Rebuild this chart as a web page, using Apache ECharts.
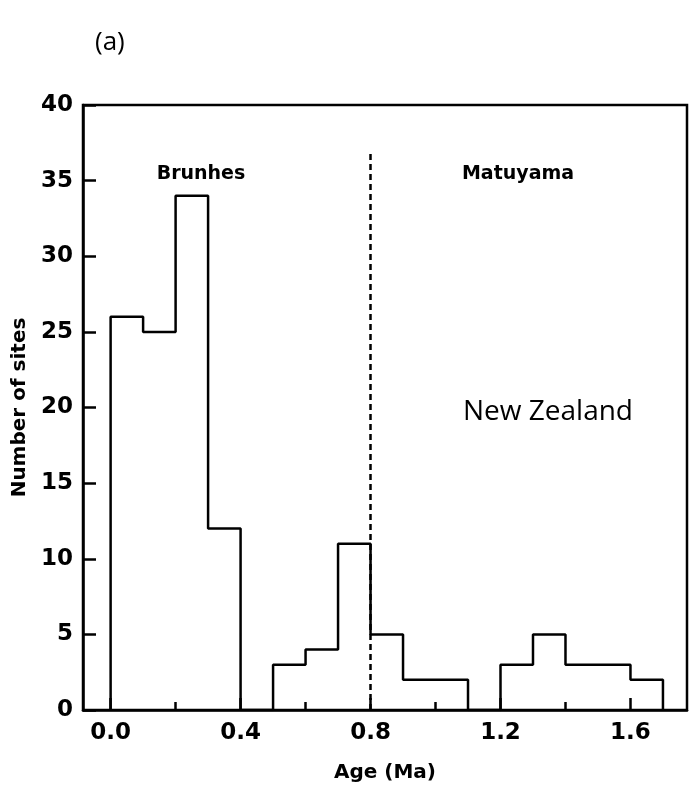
<!DOCTYPE html>
<html>
<head>
<meta charset="utf-8">
<script src="https://cdn.jsdelivr.net/npm/echarts@6/dist/echarts.min.js"></script>
<style>
  html, body { margin: 0; padding: 0; background: #fff; }
  #chart { width: 690px; height: 788px; }
</style>
</head>
<body>
<div id="chart"></div>
<script>
// Histogram of site ages (bin width 0.1 Ma)
const binEdges = [0.0, 0.1, 0.2, 0.3, 0.4, 0.5, 0.6, 0.7, 0.8, 0.9, 1.0, 1.1, 1.2, 1.3, 1.4, 1.5, 1.6, 1.7];
const siteCounts = [26, 25, 34, 12, 0, 3, 4, 11, 5, 2, 2, 0, 3, 5, 3, 3, 2];
const xTickLabels = [0.0, 0.4, 0.8, 1.2, 1.6];
const xMinorTicks = [0.2, 0.6, 1.0, 1.4];
const reversalAge = 0.8;
const reversalTop = 37;

// Step outline of the histogram
const outline = [[binEdges[0], 0]];
siteCounts.forEach((c, i) => {
  outline.push([binEdges[i], c]);
  outline.push([binEdges[i + 1], c]);
});
outline.push([binEdges[binEdges.length - 1], 0]);

const chart = echarts.init(document.getElementById('chart'));
const LW = 2.5;
const tickFont = { fontFamily: 'DejaVu Sans', fontWeight: 'bold', fontSize: 23, color: '#000' };
const titleFont = { fontFamily: 'DejaVu Sans', fontWeight: 'bold', fontSize: 20, color: '#000' };

chart.setOption({
  animation: false,
  backgroundColor: '#fff',
  grid: {
    left: 83, top: 105, right: 3, bottom: 78,
    show: true, borderColor: '#000', borderWidth: LW, backgroundColor: 'transparent'
  },
  xAxis: [{
    type: 'value', min: -0.085, max: 1.774,
    splitLine: { show: false },
    axisLine: { show: true, onZero: false, lineStyle: { color: '#000', width: LW } },
    axisTick: { show: true, inside: true, length: 8, customValues: xMinorTicks, lineStyle: { color: '#000', width: LW } },
    axisLabel: {
      customValues: xTickLabels, margin: 12, ...tickFont,
      formatter: v => v.toFixed(1)
    },
    name: 'Age (Ma)', nameLocation: 'middle', nameGap: 53, nameTextStyle: titleFont
  }, {
    type: 'value', min: -0.085, max: 1.774, position: 'bottom',
    splitLine: { show: false },
    axisLine: { show: false, onZero: false },
    axisTick: { show: true, inside: true, length: 12, customValues: xTickLabels, lineStyle: { color: '#000', width: LW } },
    axisLabel: { show: false }
  }],
  yAxis: {
    type: 'value', min: 0, max: 40, interval: 5,
    splitLine: { show: false },
    axisLine: { show: true, onZero: false, lineStyle: { color: '#000', width: LW } },
    axisTick: { show: true, inside: true, length: 13, lineStyle: { color: '#000', width: LW } },
    axisLabel: { margin: 10, ...tickFont },
    name: 'Number of sites', nameLocation: 'middle', nameGap: 51, nameRotate: 90, nameTextStyle: titleFont
  },
  series: [{
    type: 'line',
    data: outline,
    symbol: 'none',
    lineStyle: { color: '#000', width: LW },
    z: 3,
    markLine: {
      silent: true, symbol: 'none',
      label: { show: false },
      lineStyle: { color: '#000', width: LW, type: [6, 4] },
      data: [[{ coord: [reversalAge, 0] }, { coord: [reversalAge, reversalTop] }]]
    }
  }],
  graphic: [
    { type: 'text', left: 95, top: 30, style: { text: '(a)', fontFamily: 'Open Sans', fontSize: 26, fill: '#000' } },
    { type: 'text', x: 201, y: 174, style: { text: 'Brunhes', fontFamily: 'DejaVu Sans', fontWeight: 'bold', fontSize: 19, fill: '#000', align: 'center', verticalAlign: 'middle' } },
    { type: 'text', x: 518, y: 174, style: { text: 'Matuyama', fontFamily: 'DejaVu Sans', fontWeight: 'bold', fontSize: 19, fill: '#000', align: 'center', verticalAlign: 'middle' } },
    { type: 'text', x: 548, y: 412, style: { text: 'New Zealand', fontFamily: 'Open Sans', fontSize: 28, fill: '#000', align: 'center', verticalAlign: 'middle' } }
  ]
});
</script>
</body>
</html>
